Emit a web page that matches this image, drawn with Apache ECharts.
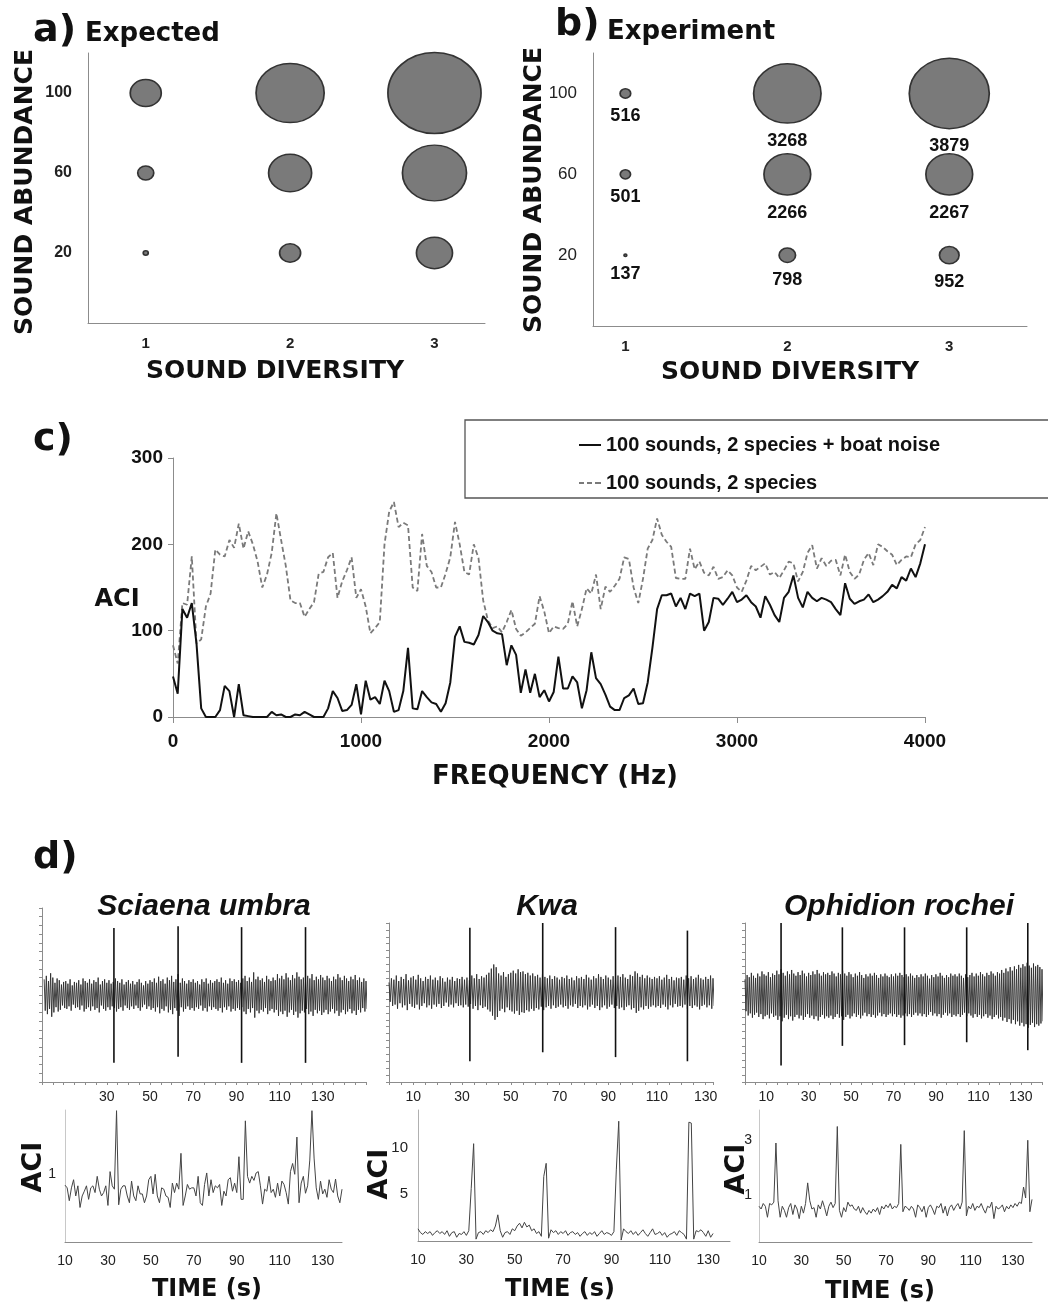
<!DOCTYPE html>
<html>
<head>
<meta charset="utf-8">
<title>ACI figure</title>
<script src="https://cdn.jsdelivr.net/npm/echarts@6.0.0/dist/echarts.min.js"></script>
<style>
  html, body { margin: 0; padding: 0; background: #fff; }
  #chart { width: 1048px; height: 1306px; }
</style>
</head>
<body>
<div id="chart"></div>
<script>
// ---- a) / b) bubble panels ----
const diversity = [1, 2, 3]
const abundance = [20, 60, 100]
const abundanceTicks = [20, 60, 100]
// rows = diversity 1..3, cols = abundance 20/60/100
const expectedAci = [[243, 777, 1505], [1019, 2087, 3301], [1748, 3107, 4515]]
const experimentAci = [[137, 501, 516], [798, 2266, 3268], [952, 2267, 3879]]

// ---- c) ACI along frequency, one bin every 25 Hz (0..4000 Hz) ----
const freqStep = 25
const freqTicks = [0, 1000, 2000, 3000, 4000]
const aciBoat = [
  47, 27, 125, 115, 132, 85, 10, 0, 0, 0,
  8, 36, 30, 0, 38, 2, 1, 0, 0, 0,
  0, 6, 2, 3, 0, 0, 3, 2, 6, 3,
  0, 0, 0, 10, 30, 22, 7, 8, 14, 38,
  3, 42, 20, 23, 15, 42, 30, 6, 8, 30,
  80, 10, 9, 30, 23, 17, 15, 6, 16, 40,
  93, 105, 87, 86, 84, 95, 117, 110, 100, 97,
  96, 60, 83, 72, 28, 55, 28, 50, 23, 31,
  18, 29, 70, 33, 33, 47, 40, 10, 31, 75,
  45, 38, 26, 12, 8, 8, 22, 25, 33, 15,
  16, 40, 80, 125, 141, 141, 143, 128, 138, 125,
  143, 140, 143, 100, 110, 138, 137, 130, 137, 145,
  133, 136, 141, 133, 128, 115, 140, 130, 118, 110,
  138, 145, 164, 138, 127, 145, 138, 134, 138, 136,
  133, 125, 118, 155, 137, 131, 134, 136, 142, 133,
  136, 140, 145, 153, 149, 162, 158, 172, 162, 178,
  200
]
const aciSpecies = [
  83, 62, 132, 130, 186, 85, 90, 128, 143, 194,
  188, 186, 205, 196, 224, 195, 215, 200, 180, 150,
  165, 190, 236, 205, 175, 135, 132, 132, 116, 125,
  133, 166, 168, 185, 190, 138, 157, 170, 185, 138,
  148, 128, 97, 103, 110, 200, 238, 249, 220, 225,
  222, 150, 146, 212, 175, 168, 150, 150, 166, 185,
  226, 200, 168, 165, 200, 184, 135, 112, 103, 105,
  98, 110, 124, 102, 94, 98, 103, 108, 140, 122,
  97, 105, 103, 102, 108, 134, 105, 125, 149, 143,
  165, 125, 151, 145, 152, 160, 185, 183, 150, 132,
  160, 195, 205, 230, 211, 203, 197, 161, 160, 160,
  195, 171, 180, 167, 164, 174, 160, 162, 170, 164,
  150, 145, 158, 175, 170, 174, 178, 165, 168, 161,
  170, 180, 178, 157, 168, 190, 199, 172, 184, 175,
  181, 182, 164, 188, 168, 160, 165, 182, 190, 176,
  200, 197, 192, 188, 176, 182, 186, 185, 200, 205,
  220
]

// ---- d) waveforms: amplitude per second (% of full scale), first value at waveStart ----
const waveStartSciaena = 1
const waveSciaena = [
  18, 22, 16, 25, 20, 14, 19, 17, 12, 15, 16, 13, 18, 11, 15, 14, 17, 12, 19, 16,
  14, 18, 13, 17, 15, 20, 12, 16, 18, 14, 17, 13, 15, 19, 16, 14, 18, 12, 15, 17,
  13, 16, 12, 15, 18, 14, 11, 16, 13, 17, 15, 19, 14, 21, 16, 18, 13, 20, 17, 22,
  15, 18, 24, 14, 19, 16, 13, 17, 15, 18, 14, 16, 12, 18, 15, 19, 13, 17, 14, 16,
  18, 15, 20, 14, 17, 13, 19, 16, 18, 15, 17, 14, 19, 22, 16, 20, 15, 26, 18, 21,
  17, 19, 15, 22, 18, 16, 20, 17, 24, 19, 22, 18, 25, 20, 17, 23, 19, 26, 21, 18,
  20, 16, 22, 19, 24, 17, 21, 18, 23, 20, 17, 22, 19, 16, 21, 18, 24, 20, 17, 22,
  19, 16, 21, 18, 23, 17, 20, 15, 19, 16
]
const waveStartKwa = 0
const waveKwa = [
  14, 20, 18, 24, 16, 22, 19, 26, 17, 21, 23, 18, 25, 20, 16, 22, 19, 24, 18, 21,
  17, 23, 20, 15, 21, 18, 22, 16, 20, 19, 22, 18, 21, 17, 24, 20, 26, 19, 23, 21,
  25, 28, 34, 40, 36, 27, 24, 29, 22, 26, 28, 31, 27, 33, 29, 30, 26, 28, 24, 27,
  23, 25, 21, 26, 22, 20, 24, 19, 23, 21, 18, 22, 20, 24, 19, 21, 17, 23, 20, 22,
  19, 25, 21, 18, 23, 20, 26, 22, 19, 24, 21, 18, 23, 20, 24, 22, 26, 21, 19, 25,
  23, 30, 27, 22, 25, 20, 24, 21, 19, 22, 20, 23, 18, 21, 25, 19, 22, 17, 21, 20,
  22, 18, 24, 20, 23, 19, 21, 25, 20, 18, 22, 19, 24, 20
]
const waveStartOphidion = 0
const waveOphidion = [
  22, 28, 25, 31, 27, 24, 30, 26, 33, 29, 27, 32, 25, 30, 28, 34, 29, 36, 31, 27,
  33, 29, 35, 30, 27, 32, 28, 34, 30, 26, 31, 28, 33, 29, 35, 30, 27, 32, 29, 31,
  28, 33, 30, 26, 31, 29, 34, 30, 27, 32, 29, 25, 30, 27, 32, 28, 24, 29, 26, 30,
  27, 31, 28, 24, 29, 26, 30, 27, 25, 29, 26, 30, 27, 31, 28, 25, 29, 26, 30, 27,
  24, 28, 25, 29, 26, 30, 27, 23, 28, 25, 29, 26, 31, 27, 24, 28, 25, 30, 27, 29,
  26, 30, 27, 24, 29, 25, 28, 31, 26, 30, 27, 32, 29, 26, 31, 28, 33, 30, 27, 32,
  30, 35, 31, 37, 33, 39, 34, 40, 36, 42, 38, 43, 40, 45, 41, 38, 44, 40, 42, 39,
  36
]
// call spikes: time (s), height above / below the centre line (% of full scale)
const spikeTimesSciaena = [33.3, 63, 92.4, 122]
const spikeUpSciaena = [77, 79, 78, 78]
const spikeDownSciaena = [78, 71, 78, 78]
const spikeTimesKwa = [33.2, 63.1, 93, 122.5]
const spikeUpKwa = [93, 100, 94, 89]
const spikeDownKwa = [100, 87, 94, 100]
const spikeTimesOphidion = [17, 45.9, 75.2, 104.5, 133.3]
const spikeUpOphidion = [100, 94, 94, 94, 100]
const spikeDownOphidion = [97, 70, 69, 65, 76]
const timeTicksSciaenaWave = [30, 50, 70, 90, 110, 130]
const timeTicks = [10, 30, 50, 70, 90, 110, 130]

// ---- d) ACI per second, first value at t = 10 s ----
const aciStart = 10
const aciSciaena = [
  0.84, 0.80, 0.61, 0.80, 0.92, 0.68, 0.83, 0.51, 0.68, 0.75,
  0.83, 0.63, 0.80, 0.83, 0.73, 0.97, 0.78, 0.68, 0.73, 0.83,
  0.54, 1.04, 0.83, 0.78, 1.94, 0.55, 0.78, 0.83, 0.83, 0.68,
  0.58, 0.90, 0.68, 0.61, 0.83, 0.71, 0.71, 0.58, 0.68, 0.92,
  0.97, 0.71, 1.00, 0.68, 0.58, 0.80, 0.78, 0.68, 0.66, 0.51,
  0.87, 0.73, 0.87, 0.78, 1.31, 0.54, 0.68, 0.85, 0.78, 0.80,
  0.80, 0.68, 0.97, 0.58, 0.54, 0.85, 1.02, 0.68, 0.92, 0.73,
  0.83, 0.80, 0.85, 0.54, 0.75, 0.68, 0.92, 0.95, 0.75, 0.87,
  0.73, 1.26, 0.63, 0.63, 1.79, 0.97, 0.87, 0.97, 0.91, 1.02,
  1.04, 0.83, 0.56, 0.78, 0.75, 0.97, 0.73, 0.78, 0.66, 0.87,
  0.68, 0.90, 0.85, 0.73, 0.56, 1.04, 1.16, 1.00, 1.55, 0.58,
  0.87, 0.97, 0.72, 0.83, 1.21, 1.94, 1.24, 0.80, 0.63, 0.90,
  0.71, 0.78, 0.66, 0.92, 0.78, 0.73, 0.93, 0.68, 0.58, 0.78
]
const aciKwa = [
  1.3, 0.9, 0.7, 1.0, 0.8, 1.0, 0.6, 0.9, 1.1, 0.8,
  1.0, 0.7, 1.1, 0.5, 0.9, 1.0, 0.4, 0.8, 0.7, 1.0,
  0.6, 1.1, 5.6, 10.4, 0.2, 0.9, 1.0, 0.7, 1.1, 0.9,
  1.2, 1.0, 1.6, 2.8, 1.1, 0.4, 0.9, 1.0, 0.7, 1.3,
  1.1, 1.6, 1.9, 1.4, 2.0, 1.5, 1.7, 1.1, 1.3, 0.8,
  1.0, 0.5, 6.9, 8.3, 0.3, 1.2, 0.9, 1.1, 0.7, 1.0,
  0.8, 1.1, 0.6, 0.9, 1.0, 0.7, 0.9, 0.5, 0.8, 1.0,
  0.6, 0.9, 0.7, 1.0, 0.5, 0.8, 1.1, 0.7, 0.9, 0.8,
  0.6, 1.0, 7.6, 12.8, 0.1, 1.3, 1.0, 0.8, 1.1, 0.7,
  1.0, 0.6, 0.9, 1.2, 0.8, 0.5, 0.9, 1.3, 0.7, 0.8,
  1.0, 0.6, 0.9, 0.4, 0.7, 0.8, 1.0, 0.6, 1.1, 0.9,
  0.7, 0.2, 12.7, 12.6, 0.2, 1.1, 1.0, 1.2, 0.9, 0.5,
  1.1, 0.4, 0.8
]
const aciOphidion = [
  0.6, 0.5, 0.7, 0.6, 0.2, 0.7, 0.65, 0.75, 2.9, 0.8,
  0.2, 0.6, 0.45, 0.2, 0.55, 0.7, 0.3, 0.65, 0.5, 0.15,
  0.6, 0.35, 0.7, 1.45, 0.8, 0.5, 0.55, 0.2, 0.65, 0.5,
  0.8, 0.55, 0.25, 0.6, 0.75, 0.55, 0.7, 3.5, 0.45, 0.2,
  0.55, 0.4, 0.75, 0.6, 0.65, 0.5, 0.45, 0.6, 0.35, 0.55,
  0.4, 0.3, 0.45, 0.35, 0.5, 0.4, 0.55, 0.3, 0.6, 0.5,
  0.65, 0.55, 0.7, 0.5, 0.6, 0.55, 0.7, 2.85, 0.4, 0.6,
  0.55, 0.45, 0.6, 0.5, 0.2, 0.65, 0.55, 0.4, 0.6, 0.2,
  0.55, 0.65, 0.5, 0.3, 0.6, 0.55, 0.7, 0.35, 0.6, 0.25,
  0.55, 0.65, 0.45, 0.6, 0.7, 0.5, 0.75, 3.35, 0.25, 0.6,
  0.5, 0.7, 0.45, 0.6, 0.55, 0.7, 0.5, 0.35, 0.6, 0.55,
  0.75, 0.15, 0.6, 0.5, 0.55, 0.65, 0.4, 0.6, 0.5, 0.65,
  0.55, 0.7, 0.6, 0.75, 0.7, 1.3, 0.9, 3.0, 0.4, 0.85
]
const aciTicksKwa = [5, 10]
const aciTicksOphidion = [1, 3]
const aciTicksSciaena = [1]

// ---- styling ----
const HEAD = 'DejaVu Sans'
const ARIAL = 'Liberation Sans'
const axisGray = '#8c8c8c'
const bubbleScale = 80 / 3879 // px of bubble width per unit

function bubbleData (values) {
  const out = []
  diversity.forEach((d, i) => abundance.forEach((a, j) => out.push([d, a, values[i][j]])))
  return out
}

function xAxisOf (grid, min, max, extra) {
  return Object.assign({
    type: 'value', gridIndex: grid, min, max,
    splitLine: { show: false },
    axisLine: { show: true, onZero: false, lineStyle: { color: axisGray } },
    axisTick: { show: false },
    axisLabel: { show: false }
  }, extra)
}
const yAxisOf = xAxisOf

function waveData (start, amp) {
  // each second: one swing up and one swing down around the centre line
  const out = []
  amp.forEach((a, i) => {
    out.push([start + i, a])
    out.push([start + i + 0.5, -a])
  })
  return out
}
function seriesData (start, vals) {
  return vals.map((v, i) => [start + i, v])
}
function spikeSeries (idx, times, up, down) {
  return {
    type: 'custom', xAxisIndex: idx, yAxisIndex: idx, z: 5,
    encode: { x: 0, y: [1, 2] },
    data: times.map((t, i) => [t, up[i], down[i]]),
    renderItem: (params, api) => {
      const a = api.coord([api.value(0), api.value(1)])
      const b = api.coord([api.value(0), -api.value(2)])
      return { type: 'line', shape: { x1: a[0], y1: a[1], x2: b[0], y2: b[1] }, style: { stroke: '#111', lineWidth: 1.6 } }
    }
  }
}

const bigLabel = (text, x, y, size) => ({
  type: 'text', x, y,
  style: { text, fontFamily: HEAD, fontWeight: 'bold', fontSize: size, fill: '#111', align: 'left', verticalAlign: 'middle' }
})
const centerLabel = (text, x, y, size, rot) => ({
  type: 'text', x, y, rotation: rot || 0,
  style: { text, fontFamily: HEAD, fontWeight: 'bold', fontSize: size, fill: '#111', align: 'center', verticalAlign: 'middle' }
})
const titleLabel = (text, x, y) => ({
  type: 'text', x, y,
  style: { text, fontFamily: ARIAL, fontWeight: 'bold', fontStyle: 'italic', fontSize: 30, fill: '#111', align: 'center', verticalAlign: 'middle' }
})

const bubbleLabel = { fontFamily: ARIAL, fontWeight: 'bold', fontSize: 15, color: '#222' }
const smallLabel = { fontFamily: ARIAL, fontSize: 14, color: '#222' }
const plain = v => String(v)
const ROT = Math.PI / 2
const waveTick = { show: true, length: 3, lineStyle: { color: axisGray } }
const waveLine = { color: '#2c2c2c', width: 0.9 }

const option = {
  backgroundColor: '#fff',
  animation: false,
  grid: [
    { left: 88, top: 53, width: 397, height: 270 },
    { left: 593, top: 53, width: 434, height: 273 },
    { left: 173, top: 458, width: 752, height: 259 },
    { left: 42, top: 908, width: 324, height: 174 },
    { left: 389, top: 923, width: 324, height: 159 },
    { left: 745, top: 923, width: 297, height: 159 },
    { left: 65, top: 1110, width: 277, height: 132 },
    { left: 418, top: 1110, width: 312, height: 131 },
    { left: 759, top: 1110, width: 273, height: 132 }
  ].map(g => Object.assign({ outerBoundsMode: 'none' }, g)),
  xAxis: [
    xAxisOf(0, 0.6, 3.35, { axisLabel: Object.assign({ show: true, margin: 13, customValues: diversity }, bubbleLabel) }),
    xAxisOf(1, 0.8, 3.48, { axisLabel: Object.assign({ show: true, margin: 13, customValues: diversity }, bubbleLabel) }),
    xAxisOf(2, 0, 4000, {
      interval: 1000,
      axisTick: { show: true, length: 6, lineStyle: { color: axisGray } },
      axisLabel: { show: true, margin: 15, customValues: freqTicks, formatter: plain, fontFamily: ARIAL, fontWeight: 'bold', fontSize: 19, color: '#111' }
    }),
    xAxisOf(3, 0, 150, { interval: 5, axisTick: waveTick, axisLabel: Object.assign({ show: true, margin: 8, customValues: timeTicksSciaenaWave }, smallLabel) }),
    xAxisOf(4, 0, 133, { interval: 5, axisTick: waveTick, axisLabel: Object.assign({ show: true, margin: 8, customValues: timeTicks }, smallLabel) }),
    xAxisOf(5, 0, 140, { interval: 5, axisTick: waveTick, axisLabel: Object.assign({ show: true, margin: 8, customValues: timeTicks }, smallLabel) }),
    xAxisOf(6, 10, 139, { axisLabel: Object.assign({ show: true, margin: 12, customValues: timeTicks }, smallLabel) }),
    xAxisOf(7, 10, 139, { axisLabel: Object.assign({ show: true, margin: 12, customValues: timeTicks }, smallLabel) }),
    xAxisOf(8, 10, 139, { axisLabel: Object.assign({ show: true, margin: 12, customValues: timeTicks }, smallLabel) })
  ],
  yAxis: [
    yAxisOf(0, -15, 120, { axisLabel: Object.assign({ show: true, margin: 16, customValues: abundanceTicks }, bubbleLabel, { fontSize: 16 }) }),
    yAxisOf(1, -15, 120, { axisLabel: { show: true, margin: 16, customValues: abundanceTicks, fontFamily: ARIAL, fontSize: 17, color: '#222' } }),
    yAxisOf(2, 0, 300, {
      interval: 100,
      axisTick: { show: true, length: 5, lineStyle: { color: axisGray } },
      axisLabel: { show: true, margin: 10, fontFamily: ARIAL, fontWeight: 'bold', fontSize: 19, color: '#111' }
    }),
    yAxisOf(3, -100, 100, { interval: 10, axisTick: waveTick }),
    yAxisOf(4, -130, 100, { interval: 10, axisTick: waveTick }),
    yAxisOf(5, -120, 100, { interval: 10, axisTick: waveTick }),
    yAxisOf(6, 0, 1.95, { axisLine: { show: true, lineStyle: { color: '#c8c8c8' } }, axisLabel: { show: true, margin: 9, customValues: aciTicksSciaena, fontFamily: ARIAL, fontSize: 14, color: '#222' } }),
    yAxisOf(7, 0, 14, { axisLine: { show: true, lineStyle: { color: '#b0b0b0' } }, axisLabel: { show: true, margin: 10, customValues: aciTicksKwa, fontFamily: ARIAL, fontSize: 15, color: '#222' } }),
    yAxisOf(8, -0.7, 4.1, { axisLine: { show: true, lineStyle: { color: '#c8c8c8' } }, axisLabel: { show: true, margin: 7, customValues: aciTicksOphidion, fontFamily: ARIAL, fontSize: 14, color: '#222' } })
  ],
  legend: {
    left: 574, top: 428, orient: 'vertical', itemWidth: 22, itemHeight: 2, itemGap: 14,
    data: [
      { name: '100 sounds, 2 species + boat noise', icon: 'path://M0,0h22v2h-22z' },
      { name: '100 sounds, 2 species', icon: 'path://M0,0h5v2h-5zM8,0h5v2h-5zM16,0h6v2h-6z' }
    ],
    textStyle: { fontFamily: ARIAL, fontWeight: 'bold', fontSize: 20, lineHeight: 24, color: '#111' }
  },
  graphic: [
    bigLabel('a)', 33, 31, 38),
    bigLabel('Expected', 85, 34, 26),
    bigLabel('b)', 555, 25, 38),
    bigLabel('Experiment', 607, 32, 26),
    centerLabel('SOUND DIVERSITY', 275, 371, 25),
    centerLabel('SOUND DIVERSITY', 790, 372, 25),
    centerLabel('SOUND ABUNDANCE', 25, 192, 25, ROT),
    centerLabel('SOUND ABUNDANCE', 534, 190, 25, ROT),
    bigLabel('c)', 33, 440, 38),
    { type: 'rect', shape: { x: 465, y: 420, width: 620, height: 78 }, style: { fill: 'none', stroke: '#555', lineWidth: 1.3 } },
    centerLabel('ACI', 117, 600, 24),
    centerLabel('FREQUENCY (Hz)', 555, 777, 26),
    bigLabel('d)', 33, 858, 38),
    titleLabel('Sciaena umbra', 204, 907),
    titleLabel('Kwa', 547, 907),
    titleLabel('Ophidion rochei', 899, 907),
    centerLabel('ACI', 34, 1167, 27, ROT),
    centerLabel('ACI', 380, 1174, 27, ROT),
    centerLabel('ACI', 737, 1169, 27, ROT),
    centerLabel('TIME (s)', 207, 1290, 24),
    centerLabel('TIME (s)', 560, 1290, 24),
    centerLabel('TIME (s)', 880, 1292, 24)
  ],
  series: [
    {
      type: 'scatter', xAxisIndex: 0, yAxisIndex: 0,
      data: bubbleData(expectedAci),
      symbolSize: d => { const w = d[2] * bubbleScale; return [w, w * 0.87] },
      itemStyle: { color: '#7a7a7a', borderColor: '#333', borderWidth: 1.6, opacity: 1 }
    },
    {
      type: 'scatter', xAxisIndex: 1, yAxisIndex: 1,
      data: bubbleData(experimentAci),
      symbolSize: d => { const w = d[2] * bubbleScale; return [w, w * 0.88] },
      itemStyle: { color: '#7a7a7a', borderColor: '#333', borderWidth: 1.6, opacity: 1 },
      label: { show: true, position: 'bottom', distance: 8, formatter: p => String(p.value[2]), fontFamily: ARIAL, fontWeight: 'bold', fontSize: 18, color: '#111' }
    },
    {
      name: '100 sounds, 2 species + boat noise', type: 'line', xAxisIndex: 2, yAxisIndex: 2,
      symbol: 'none', z: 4,
      lineStyle: { color: '#111', width: 2 },
      itemStyle: { color: '#111' },
      data: aciBoat.map((v, i) => [i * freqStep, v])
    },
    {
      name: '100 sounds, 2 species', type: 'line', xAxisIndex: 2, yAxisIndex: 2,
      symbol: 'none', z: 3,
      lineStyle: { color: '#7a7a7a', width: 1.8, type: [5, 3] },
      itemStyle: { color: '#7a7a7a' },
      data: aciSpecies.map((v, i) => [i * freqStep, v])
    },
    { type: 'line', xAxisIndex: 3, yAxisIndex: 3, symbol: 'none', lineStyle: waveLine, data: waveData(waveStartSciaena, waveSciaena) },
    { type: 'line', xAxisIndex: 4, yAxisIndex: 4, symbol: 'none', lineStyle: waveLine, data: waveData(waveStartKwa, waveKwa) },
    { type: 'line', xAxisIndex: 5, yAxisIndex: 5, symbol: 'none', lineStyle: waveLine, data: waveData(waveStartOphidion, waveOphidion) },
    spikeSeries(3, spikeTimesSciaena, spikeUpSciaena, spikeDownSciaena),
    spikeSeries(4, spikeTimesKwa, spikeUpKwa, spikeDownKwa),
    spikeSeries(5, spikeTimesOphidion, spikeUpOphidion, spikeDownOphidion),
    { type: 'line', xAxisIndex: 6, yAxisIndex: 6, symbol: 'none', lineStyle: { color: '#444', width: 1 }, data: seriesData(aciStart, aciSciaena) },
    { type: 'line', xAxisIndex: 7, yAxisIndex: 7, symbol: 'none', lineStyle: { color: '#444', width: 1 }, data: seriesData(aciStart, aciKwa) },
    { type: 'line', xAxisIndex: 8, yAxisIndex: 8, symbol: 'none', lineStyle: { color: '#444', width: 1 }, data: seriesData(aciStart, aciOphidion) }
  ]
}

const chart = echarts.init(document.getElementById('chart'))
chart.setOption(option)
</script>
</body>
</html>
